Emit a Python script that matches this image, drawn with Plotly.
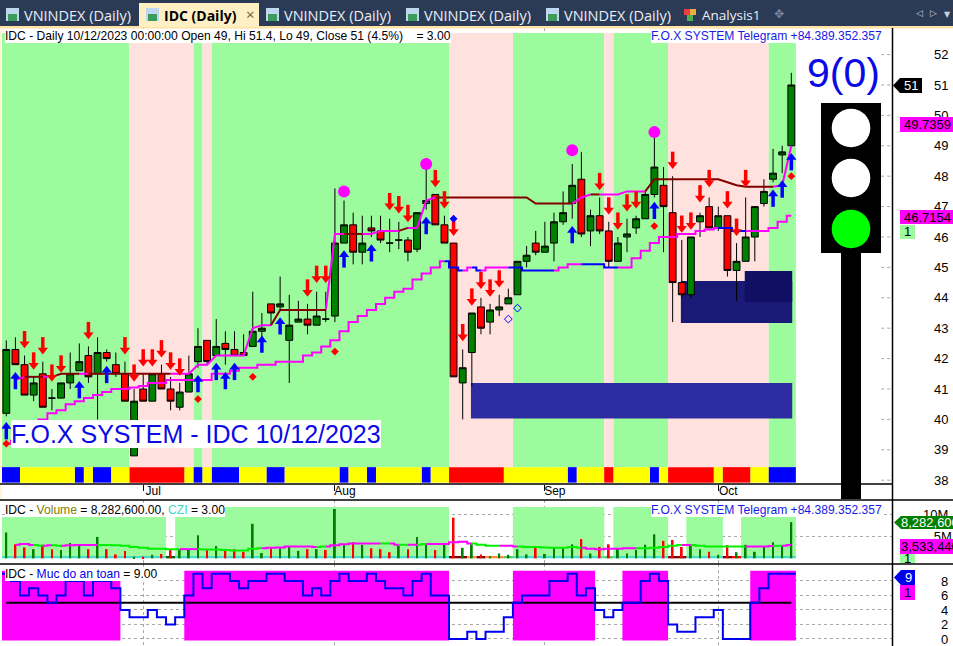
import plotly.graph_objects as go

W, H = 953, 646

opens = [40.2,42.3,41.8,40.8,41.5,40.7,40.7,41.2,41.6,42.1,41.5,42.2,41.8,41.5,38.8,41.0,40.6,41.5,41.0,40.4,40.9,41.9,42.6,42.1,42.5,42.3,42.2,42.4,42.9,43.8,43.7,42.6,43.2,43.3,43.1,43.3,43.4,45.8,46.4,45.5,46.3,46.2,45.8,45.9,45.9,45.6,47.1,47.4,46.4,45.8,41.2,42.2,43.7,43.2,43.6,43.8,44.1,45.2,45.8,45.5,45.8,46.5,47.1,47.9,46.2,46.7,46.2,45.2,46.0,46.3,46.6,47.4,47.7,46.8,44.5,44.1,46.5,47.0,46.3,46.7,44.9,45.2,46.0,47.1,47.9,48.7,49.0]
highs = [42.6,42.7,42.1,41.4,41.9,41.0,41.2,42.2,42.5,42.4,42.7,42.3,42.2,41.9,41.0,41.5,41.5,41.8,41.4,41.2,42.1,43.0,42.6,43.3,42.9,42.9,42.8,44.2,43.5,43.8,44.7,44.1,43.9,43.8,44.2,44.2,47.6,47.2,46.8,46.7,46.7,46.7,46.6,46.5,46.0,46.8,48.5,47.4,46.7,45.8,42.3,43.5,44.0,43.8,44.1,44.3,45.2,45.7,46.2,46.5,46.8,47.5,48.4,48.8,46.9,47.3,46.5,46.0,46.6,46.7,47.5,49.3,48.3,48.0,45.9,46.0,46.8,47.3,47.0,46.7,45.8,47.3,47.0,47.9,48.9,49.0,51.4]
lows = [40.1,41.8,40.8,40.6,40.4,40.3,40.7,41.0,41.6,41.2,40.0,41.9,41.4,40.6,38.8,40.6,40.6,41.0,40.3,40.3,40.9,41.7,41.8,42.1,41.8,42.1,42.1,42.4,42.7,43.1,43.6,41.2,43.2,42.8,43.1,43.2,43.2,45.8,45.1,45.1,46.0,45.8,45.5,45.6,45.2,45.5,46.9,46.4,45.8,41.4,40.0,41.1,42.8,42.8,43.4,43.8,44.1,45.0,45.4,45.5,45.2,46.4,46.6,46.0,45.7,46.1,45.0,45.2,45.5,46.1,46.6,47.3,45.5,43.2,44.0,44.0,46.0,46.3,46.2,44.7,43.9,45.2,45.2,47.0,47.8,48.1,49.0]
closes = [42.3,41.8,40.8,41.2,40.4,40.7,41.2,41.5,41.9,41.4,42.2,42.0,41.5,40.6,40.6,40.6,41.5,41.0,40.6,40.9,41.5,42.4,41.9,42.4,42.3,42.1,42.1,42.9,43.0,43.5,43.8,43.1,43.3,43.1,43.4,43.3,45.8,46.4,45.5,45.8,46.2,45.9,45.8,45.9,45.5,46.8,47.2,46.4,45.8,41.4,41.7,43.5,43.0,43.6,43.7,44.0,45.2,45.4,45.5,45.7,46.5,46.8,47.7,46.1,46.7,46.2,45.2,45.8,46.1,46.6,47.4,48.3,47.0,44.5,44.1,46.0,46.7,46.3,46.7,44.9,45.2,46.0,47.0,47.5,48.1,48.8,51.0]
bar_index = list(range(len(closes)))

upper_line = [None,41.3,41.4,41.4,41.4,41.4,41.5,41.5,41.5,41.5,41.5,41.5,41.5,41.5,41.5,41.5,41.5,41.5,41.5,41.5,41.5,41.8,41.8,42.1,42.1,42.1,42.1,43.0,43.1,43.1,43.6,43.6,43.6,43.6,43.6,43.6,46.1,46.1,46.1,46.1,46.1,46.2,46.2,46.2,46.3,46.3,47.2,47.3,47.3,47.3,47.3,47.3,47.3,47.3,47.3,47.3,47.3,47.3,47.1,47.1,47.1,47.1,47.1,47.3,47.4,47.4,47.4,47.4,47.5,47.5,47.5,47.9,47.9,47.9,47.9,47.9,47.9,47.9,47.9,47.8,47.7,47.65,47.65,47.65,47.65,47.7,49.0]
upper_state = ["m"]*3 + ["d"]*2 + ["m"] + ["d"]*3 + ["m"] + ["d"]*9 + ["m"]*11 + ["d"]*6 + ["m"]*2 + ["d"]*2 + ["m"]*4 + ["d"] + ["m"]*3 + ["d"]*15 + ["m"]*2 + ["d"] + ["m"]*5 + ["d"]*14 + ["m"]*2
lower_line = [39.2,39.3,39.4,39.5,40.0,40.2,40.3,40.5,40.6,40.7,40.8,40.9,41.0,41.0,41.05,41.1,41.2,41.2,41.3,41.3,41.3,41.3,41.3,41.5,41.5,41.6,41.7,41.7,41.8,41.8,41.9,41.9,41.9,42.1,42.2,42.4,42.6,42.9,43.2,43.4,43.6,43.8,44.0,44.2,44.3,44.6,44.8,45.0,45.2,45.0,44.9,45.0,44.9,45.0,45.0,45.0,45.0,44.9,44.9,44.9,44.9,45.0,45.1,45.1,45.1,45.1,45.0,45.0,45.0,45.3,45.55,45.8,46.0,46.0,46.1,46.1,46.2,46.25,46.3,46.3,46.2,46.2,46.2,46.2,46.3,46.5,46.7]
lower_state = ["m"]*49 + ["b"]*2 + ["m"] + ["b"] + ["m"]*3 + ["b"]*5 + ["m"]*3 + ["b"]*4 + ["m"]*11 + ["b"]*3 + ["m"]*5

sell_idx = [2,3,4,5,6,9,13,14,15,16,17,18,19,33,34,35,42,43,44,47,48,49,50,51,52,53,54,65,66,67,68,69,73,74,75,76,77,79,80,81]
sell_px = [42.6,41.9,42.4,41.5,41.8,42.9,42.4,41.5,42.0,42.0,42.3,41.9,41.7,44.3,44.75,44.75,47.14,47.04,46.75,47.9,47.2,46.3,42.83,44.0,44.55,44.3,44.6,47.8,47.0,46.5,47.1,47.2,48.5,46.4,46.5,47.4,47.9,47.2,46.3,47.9]
buy_idx = [0,1,8,11,21,23,24,25,28,30,37,40,46,62,71,84,85,86]
buy_px = [39.65,41.3,41.0,41.5,41.2,41.6,41.3,41.6,42.5,43.1,45.3,45.5,46.4,46.1,46.9,47.3,47.6,48.5]
dot_idx = [0,21,27,36,71,86]
dot_px = [39.2,40.67,41.4,42.23,46.36,48.0]
peak_idx = [37,46,62,71]
peak_px = [47.5,48.4,48.85,49.45]

regime_runs = [("g",14),("p",7),("g",1),("p",1),("g",26),("p",7),("g",10),("p",1),("g",6),("p",11),("g",3)]
strip_runs = [("b",2),("y",6),("b",1),("y",1),("b",2),("y",2),("r",6),("y",1),("b",1),("y",1),("b",3),("y",3),("b",2),("y",6),("b",1),("y",2),("b",1),("y",5),("b",1),("y",2),("r",6),("y",7),("b",1),("y",3),("r",1),("y",4),("b",1),("y",1),("r",5),("y",1),("r",3),("y",2),("b",3)]
zone_left = [50.9, 73.9, 80.9]
zone_right = [86.1, 86.1, 86.1]
zone_lo = [40.03, 43.17, 43.86]
zone_hi = [41.2, 44.55, 44.88]
zone_col = ["#2C2CA0", "#181A75", "#100F64"]

volume_m = [5.9,3.2,2.5,2.1,3.1,2.1,1.9,3.5,3.1,2.1,4.9,2.1,0.9,1.7,0.4,0.4,0.8,1.0,2.1,1.9,2.1,5.3,1.9,2.8,1.9,2.1,1.5,7.9,1.2,2.3,2.3,2.7,1.7,2.1,2.1,1.9,11.3,3.3,3.7,3.1,2.3,2.1,1.4,2.9,2.1,4.9,3.2,1.9,3.2,9.3,2.4,3.2,0.9,0.5,1.1,0.8,2.1,0.9,2.6,1.0,2.4,2.5,3.2,4.4,1.1,2.6,3.2,2.3,1.1,1.9,3.1,5.5,4.0,4.2,2.6,2.9,2.1,1.5,0.8,3.0,1.4,3.1,1.5,2.6,3.7,2.9,8.28]
vol_red = [1,2,4,5,9,11,12,13,15,17,18,22,24,25,26,29,33,35,38,40,41,42,44,47,49,52,58,63,65,66,72,73,74,77,79]
vol_ma = [None,3.1,3.3,3.05,2.9,3.0,2.9,3.0,3.05,3.05,3.05,3.05,3.0,2.9,2.6,2.4,2.2,2.2,2.1,2.1,2.1,2.1,2.0,2.0,1.9,1.8,1.8,2.2,2.3,2.4,2.5,2.7,2.7,2.7,2.6,2.7,3.0,3.2,3.4,3.4,3.4,3.4,3.4,3.1,3.1,3.1,3.3,3.3,3.3,3.7,3.8,3.4,3.1,2.9,2.9,2.9,2.7,2.6,2.6,2.5,2.4,2.4,2.6,2.4,2.2,2.1,2.2,2.2,2.3,2.3,2.3,2.4,2.6,2.9,3.05,3.05,2.9,2.7,2.7,2.7,2.7,2.7,2.7,2.7,2.8,2.9,3.05]
vol_ma_state = ["m"]*4+["l"]+["m"]+["l"]+["m"]*3+["m"]+["l"]*9+["m"]*2+["l"]*7+["m"]*6+["l"]*1+["m"]*6+["l"]*1+["m"]+["l"]+["m"]+["l"]+["m"]*4+["m"]*1+["l"]*3+["m"]*2+["l"]*7+["m"]*6+["l"]*5+["m"]+["l"]*6+["m"]*3+["l"]+["m"]*2
vol_band_runs = [("s",18),("n",1),("t",30),("n",7),("t",10),("n",1),("t",6),("n",2),("s",4),("n",2),("s",6)]
vol_strip_runs = [("c",18),("k",1),("c",30),("d",2),("o",1),("d",1),("o",2),("l",1),("c",10),("l",1),("c",6),("d",2),("c",4),("d",1),("r",1),("c",6)]

safety = [9,8,6,7,6,5,6,8,8,6,8,8,7,4,3,3,4,3,2,3,6,9,7,9,9,8,7,8,8,9,9,8,8,6,7,6,8,9,8,8,9,8,7,7,6,8,9,6,6,0,0,1,0,1,1,3,5,6,6,6,8,8,9,6,7,4,3,4,5,5,8,9,8,2,1,1,3,3,4,0,0,0,5,7,9,9,9]
safety_runs = [("f",13),("n",7),("f",29),("n",7),("f",9),("n",3),("f",5),("n",9),("f",5)]
safe_level = 5

price_ticks = list(range(38, 53))
vol_ticks = [5, 10]
vol_tick_text = ["\u00a0\u00a0\u00a05M", "10M"]
safety_ticks = [0, 2, 4, 6, 8]
month_ticks = [15, 36, 59, 78]
month_labels = ["Jul", "Aug", "Sep", "Oct"]

ARIAL = "Liberation Sans"
GREEN_BG = "#9CFB9C"; PINK_BG = "#FFE2DE"
MAG = "#FF00FF"; DRED = "#800000"; BLUE = "#0000FF"


def expand(runs):
    out = []
    for key, n in runs:
        out += [key] * n
    return out


def band(xaxis, yaxis, states, key, lo, hi, color):
    xs, ws, i = [], [], 0
    while i < len(states):
        if states[i] != key:
            i += 1
            continue
        j = i
        while j + 1 < len(states) and states[j + 1] == key:
            j += 1
        xs.append((i + j) / 2)
        ws.append(j - i + 1)
        i = j + 1
    return go.Bar(x=xs, y=[hi - lo] * len(xs), base=[lo] * len(xs), width=ws,
                  marker=dict(color=color, line=dict(width=0)), xaxis=xaxis, yaxis=yaxis,
                  hoverinfo="skip", showlegend=False)


def segments(values, states, key):
    xs, ys = [], []
    for i in range(1, len(values)):
        if values[i - 1] is None or states[i] != key:
            continue
        if xs and xs[-1] == i - 1:
            xs.append(i); ys.append(values[i])
        else:
            xs += [None, i - 1, i]; ys += [None, values[i - 1], values[i]]
    return xs, ys


def seg_line(values, states, key, color, width, shape, xa, ya):
    xs, ys = segments(values, states, key)
    return go.Scatter(x=xs, y=ys, mode="lines", line=dict(color=color, width=width, shape=shape),
                      xaxis=xa, yaxis=ya, hoverinfo="skip", showlegend=False, connectgaps=False)


traces = []
BAND_LO, BAND_HI, STRIP_LO = 38.43, 52.71, 37.92
regime = expand(regime_runs)
for key, col in (("g", GREEN_BG), ("p", PINK_BG)):
    traces.append(band("x", "y", regime, key, BAND_LO, BAND_HI, col))
strip = expand(strip_runs)
for key, col in (("b", "#0000FF"), ("y", "#FFFF00"), ("r", "#FF0000")):
    traces.append(band("x", "y", strip, key, STRIP_LO, BAND_LO, col))
for zl, zr, lo, hi, col in zip(zone_left, zone_right, zone_lo, zone_hi, zone_col):
    traces.append(go.Bar(x=[(zl + zr) / 2], y=[hi - lo], base=[lo], width=[zr - zl],
                         marker=dict(color=col, line=dict(width=0)), hoverinfo="skip", showlegend=False))

traces.append(go.Candlestick(x=bar_index, open=opens, high=highs, low=lows, close=closes,
                             increasing=dict(line=dict(color="#000000", width=1), fillcolor="#008000"),
                             decreasing=dict(line=dict(color="#000000", width=1), fillcolor="#FF0000"),
                             whiskerwidth=0, hoverinfo="skip", showlegend=False))
traces.append(seg_line(lower_line, lower_state, "m", MAG, 2, "hvh", "x", "y"))
traces.append(seg_line(lower_line, lower_state, "b", BLUE, 2, "hvh", "x", "y"))
traces.append(seg_line(upper_line, upper_state, "m", MAG, 2, "linear", "x", "y"))
traces.append(seg_line(upper_line, upper_state, "d", DRED, 2, "linear", "x", "y"))

gx, gy = [], []
for t in price_ticks:
    gx += [95.85, 97.03, None]; gy += [t, t, None]
traces.append(go.Scatter(x=gx, y=gy, mode="lines", line=dict(color="#A8A8A8", width=1, dash="dot"),
                         hoverinfo="skip", showlegend=False))


def mk(idx, px_, symbol, size, color, line=None):
    return go.Scatter(x=idx, y=px_, mode="markers",
                      marker=dict(symbol=symbol, size=size, color=color, line=line or dict(width=0)),
                      hoverinfo="skip", showlegend=False)


# arrows: a stem plus a head around each signal price
HEAD_OFF, STEM_OFF = 0.115, 0.10
traces.append(mk(sell_idx, [p + STEM_OFF for p in sell_px], "line-ns", 9, "#FF0000", dict(color="#FF0000", width=3.5)))
traces.append(mk(sell_idx, [p - HEAD_OFF for p in sell_px], "triangle-down", 9, "#FF0000"))
traces.append(mk(buy_idx, [p - STEM_OFF for p in buy_px], "line-ns", 9, BLUE, dict(color=BLUE, width=3.5)))
traces.append(mk(buy_idx, [p + HEAD_OFF for p in buy_px], "triangle-up", 9, BLUE))
traces.append(mk(dot_idx, dot_px, "diamond", 6, "#FF0000"))
traces.append(mk([49], [46.6], "diamond", 6, BLUE))
traces.append(mk([55, 56], [43.3, 43.66], "diamond-open", 6, BLUE, dict(color=BLUE, width=1)))
traces.append(mk(peak_idx, peak_px, "circle", 12, MAG))

vb = expand(vol_band_runs)
traces.append(band("x2", "y2", vb, "s", 0.53, 9.46, GREEN_BG))
traces.append(band("x2", "y2", vb, "t", 0.53, 11.75, GREEN_BG))
vs = expand(vol_strip_runs)
for key, col in (("c", "#46DCD0"), ("k", "#0A5A0A"), ("d", "#800000"), ("o", "#FF8C40"), ("l", "#5CC85C"), ("r", "#FF0000")):
    traces.append(band("x2", "y2", vs, key, 0, 0.53, col))
vred = [i in vol_red for i in bar_index]
for flag, col in ((False, "#008000"), (True, "#FF0000")):
    idx = [i for i in bar_index if vred[i] == flag]
    traces.append(go.Bar(x=idx, y=[volume_m[i] for i in idx], width=[0.2] * len(idx),
                         marker=dict(color=col, line=dict(width=0)), xaxis="x2", yaxis="y2",
                         hoverinfo="skip", showlegend=False))
traces.append(seg_line(vol_ma, vol_ma_state, "l", "#00F000", 2, "hvh", "x2", "y2"))
traces.append(seg_line(vol_ma, vol_ma_state, "m", MAG, 2, "hvh", "x2", "y2"))

sr = expand(safety_runs)
traces.append(band("x3", "y3", sr, "f", -0.2, 9.4, "#FF00FF"))
traces.append(go.Scatter(x=[0, 86], y=[safe_level, safe_level], mode="lines", line=dict(color="#000000", width=2),
                         xaxis="x3", yaxis="y3", hoverinfo="skip", showlegend=False))
traces.append(go.Scatter(x=[i - 0.5 for i in bar_index] + [86.5], y=safety + [safety[-1]], mode="lines",
                         line=dict(color="#0000F0", width=2, shape="hv"), xaxis="x3", yaxis="y3",
                         hoverinfo="skip", showlegend=False))


def px(x): return x / W
def py(y): return 1 - y / H


shapes, ann = [], []


def rect(x0, y0, x1, y1, fill, layer="above"):
    shapes.append(dict(type="rect", xref="paper", yref="paper", x0=px(x0), x1=px(x1), y0=py(y0), y1=py(y1),
                       fillcolor=fill, line=dict(width=0), layer=layer))


def hline(x0, x1, y, color="#000000", width=1.5):
    shapes.append(dict(type="line", xref="paper", yref="paper", x0=px(x0), x1=px(x1), y0=py(y), y1=py(y),
                       line=dict(color=color, width=width), layer="above"))


def text(x, y, s, size=12, color="#000000", bg=None, anchor="left", font=ARIAL):
    ann.append(dict(xref="paper", yref="paper", x=px(x), y=py(y), text=s, showarrow=False, xanchor=anchor,
                    yanchor="middle", font=dict(family=font, size=size, color=color),
                    bgcolor=bg or "rgba(0,0,0,0)", borderpad=0, borderwidth=0))


rect(0, 0, W, 27, "#2B3A55")
rect(0, 26, W, 28.5, "#FFE2A4")
rect(139, 3, 259, 27, "#FFEFC4")
rect(0, 28.5, 1.5, 500, "#FFF3D8")
tab_font = "Open Sans"
for tx, label in ((24, "VNINDEX (Daily)"), (284, "VNINDEX (Daily)"), (424, "VNINDEX (Daily)"), (564, "VNINDEX (Daily)")):
    rect(tx - 18, 8, tx - 5, 21, "#BFD7EE")
    rect(tx - 16, 14, tx - 7, 21, "#3C9C5C")
    text(tx, 15, label, 14.5, "#E8EEF8", font=tab_font)
rect(146, 8, 159, 21, "#BFD7EE")
rect(148, 14, 157, 21, "#3C9C5C")
text(164, 15, "<b>IDC (Daily)</b>", 14, "#000000", font=tab_font)
text(250, 14, "×", 15, "#6E5E3E", anchor="center", font=tab_font)
rect(684, 9, 690, 15, "#E84040")
rect(690, 9, 696, 15, "#E8B040")
rect(687, 15, 693, 21, "#50B050")
text(702, 15, "Analysis1", 13.5, "#E8EEF8", font=tab_font)
text(779, 14, "✥", 12, "#7A8496", anchor="center", font="DejaVu Sans")
text(919, 13, "◁", 9, "#C8D0DC", anchor="center", font="DejaVu Sans")
text(933, 13, "▷", 9, "#C8D0DC", anchor="center", font="DejaVu Sans")
text(947, 14, "▼", 8, "#C8D0DC", anchor="center", font="DejaVu Sans")

hline(0, 893, 484)
hline(0, W, 500)
hline(0, W, 564)
shapes.append(dict(type="line", xref="paper", yref="paper", x0=px(892.5), x1=px(892.5), y0=py(28), y1=py(646),
                   line=dict(color="#000000", width=1.5), layer="above"))

text(5, 36, "IDC - Daily 10/12/2023 00:00:00 Open 49, Hi 51.4, Lo 49, Close 51 (4.5%)\u00a0\u00a0\u00a0\u00a0= 3.00", 12.1, "#000000", "#FFFFFF")
text(651, 36, "F.O.X SYSTEM Telegram +84.389.352.357", 12.1, "#1A1AE6", "#FFFFFF")
text(5, 510, 'IDC - <span style="color:#808000">Volume</span> = 8,282,600.00, <span style="color:#40D8D0">CZI</span> = 3.00', 12.1, "#000000", "#FFFFFF")
text(651, 510, "F.O.X SYSTEM Telegram +84.389.352.357", 12.1, "#1A1AE6", "#FFFFFF")
text(5, 574, 'IDC - <span style="color:#0000E6">Muc do an toan</span> = 9.00', 12.1, "#000000", "#FFFFFF")
text(11, 434, "F.O.X SYSTEM - IDC 10/12/2023", 25, "#0A0AE6", "#FFFFFF")

rect(821, 103, 881, 253, "#000000")
rect(841, 253, 861, 499, "#000000")
for cy, col in ((128, "#FFFFFF"), (178, "#FFFFFF"), (229, "#00FF00")):
    shapes.append(dict(type="circle", xref="paper", yref="paper", x0=px(831.7), x1=px(870.3), y0=py(cy - 19.3),
                       y1=py(cy + 19.3), fillcolor=col, line=dict(width=0), layer="above"))
text(880, 73, "9(0)", 41, "#0A0AE6", "#FFFFFF", anchor="right")


def tag(x0, x1, y0, y1, s, bg, color="#000000", pointer=False, tx=None):
    if pointer:
        shapes.append(dict(type="path", xref="paper", yref="paper", layer="above", fillcolor=bg, line=dict(width=0),
                           path=f"M {px(x0)} {py((y0+y1)/2)} L {px(x0+7)} {py(y0)} L {px(x1)} {py(y0)} L {px(x1)} {py(y1)} L {px(x0+7)} {py(y1)} Z"))
    else:
        rect(x0, y0, x1, y1, bg)
    text(tx if tx else x0 + 4, (y0 + y1) / 2, s, 13, color)


tag(893, 922, 78, 93, "51", "#000000", "#FFFFFF", True, 904)
tag(900, 953, 117, 132, "49.7359", "#FF00FF")
tag(900, 953, 210, 224, "46.7154", "#FF00FF")
tag(900, 915, 225, 239, "1", "#9CFB9C", "#000000", False, 904)
tag(894, 953, 516, 529, "8,282,600", "#008000", "#FFFFFF", True, 901)
tag(900, 953, 539, 554, "3,533,440", "#FF00FF", "#000000", False, 901)
tag(900, 915, 554, 563, "1", "#9CFB9C", "#000000", False, 904)
tag(894, 915, 570, 585, "9", "#0000F0", "#FFFFFF", True, 905)
tag(900, 915, 585, 600, "1", "#FF00FF", "#000000", False, 904)

X_RANGE = [-0.47, 97.03]
dom_x = [2 / W, 892 / W]
axis_font = dict(family=ARIAL, size=13, color="#000000")
layout = dict(
    width=W, height=H, margin=dict(l=0, r=0, t=0, b=0, pad=0, autoexpand=False), paper_bgcolor="#FFFFFF",
    plot_bgcolor="#FFFFFF", barmode="overlay", showlegend=False, hovermode=False, boxgap=0.25, boxgroupgap=0,
    shapes=shapes, annotations=ann,
    xaxis=dict(domain=dom_x, range=X_RANGE, anchor="y", rangeslider=dict(visible=False), tickmode="array",
               tickvals=month_ticks, ticktext=["\u00a0" * 6 + m for m in month_labels], ticks="outside", ticklen=6,
               ticklabelstandoff=-10, tickcolor="#000000", tickfont=dict(family=ARIAL, size=12, color="#000000"),
               showline=False, showgrid=True, gridcolor="#A8A8A8", griddash="dot", zeroline=False),
    yaxis=dict(domain=[py(484), py(28)], range=[37.875, 52.875], anchor="x", side="right", tickmode="array",
               tickvals=price_ticks, ticktext=[str(t) for t in price_ticks], tickfont=axis_font, ticks="",
               ticklabelstandoff=41, showgrid=False, zeroline=False, showline=False),
    xaxis2=dict(domain=dom_x, range=X_RANGE, anchor="y2", tickmode="array", tickvals=month_ticks, showticklabels=False,
                ticks="", showgrid=True, gridcolor="#A8A8A8", griddash="dot", zeroline=False),
    yaxis2=dict(domain=[py(564), py(500)], range=[-1.3, 13.34], anchor="x2", side="right", tickmode="array",
                tickvals=vol_ticks, ticktext=vol_tick_text, tickfont=axis_font, ticks="", ticklabelstandoff=30,
                showgrid=True, gridcolor="#A8A8A8", griddash="dot", zeroline=False),
    xaxis3=dict(domain=dom_x, range=X_RANGE, anchor="y3", tickmode="array", tickvals=month_ticks, showticklabels=False,
                ticks="", showgrid=True, gridcolor="#A8A8A8", griddash="dot", zeroline=False),
    yaxis3=dict(domain=[py(646), py(564)], range=[-0.966, 10.34], anchor="x3", side="right", tickmode="array",
                tickvals=safety_ticks, ticktext=[str(t) for t in safety_ticks], tickfont=axis_font, ticks="",
                ticklabelstandoff=48, ticklabeloverflow="allow", showgrid=True, gridcolor="#A8A8A8", griddash="dot",
                zeroline=False),
)

fig = go.Figure(data=traces, layout=layout)
fig.write_html("out.html", config=dict(displayModeBar=False),
               post_script="document.body.style.margin='0';document.documentElement.style.overflow='hidden';")
